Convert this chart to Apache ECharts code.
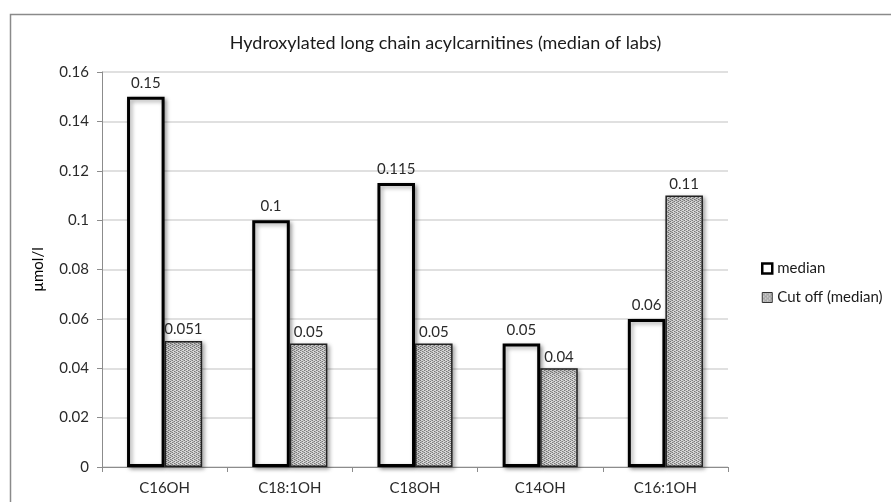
<!DOCTYPE html>
<html><head><meta charset="utf-8">
<script src="https://cdn.jsdelivr.net/npm/echarts@6/dist/echarts.min.js"></script>
<style>html,body{margin:0;padding:0;background:#fff}#c{width:891px;height:502px}</style>
</head><body><div id="c"></div>
<script>
const categories = ['C16OH', 'C18:1OH', 'C18OH', 'C14OH', 'C16:1OH'];
const medianValues = [0.15, 0.1, 0.115, 0.05, 0.06];
const cutoffValues = [0.051, 0.05, 0.05, 0.04, 0.11];
const seriesNames = ['median', 'Cut off (median)'];
const yTicks = ['0', '0.02', '0.04', '0.06', '0.08', '0.1', '0.12', '0.14', '0.16'];

function hatch() {
  const c = document.createElement('canvas');
  c.width = 4; c.height = 4;
  const g = c.getContext('2d');
  g.fillStyle = '#d8d8d8'; g.fillRect(0, 0, 4, 4);
  g.fillStyle = '#7a7a7a';
  g.fillRect(0, 0, 1, 1); g.fillRect(2, 1, 1, 1); g.fillRect(0, 2, 1, 1); g.fillRect(2, 3, 1, 1);
  g.fillStyle = '#a8a8a8';
  g.fillRect(1, 1, 1, 1); g.fillRect(3, 3, 1, 1); g.fillRect(3, 0, 1, 1); g.fillRect(1, 2, 1, 1);
  return c;
}
const hatchFill = { image: hatch(), repeat: 'repeat' };
const font = 'Lato, "Open Sans", sans-serif';
const chart = echarts.init(document.getElementById('c'));
chart.setOption({
  animation: false,
  backgroundColor: '#fff',
  textStyle: { fontFamily: font },
  graphic: [{
    type: 'rect', left: 8, top: 12, z: -1,
    shape: { width: 1000, height: 1000 },
    style: { fill: 'none', stroke: '#8a8a8a', lineWidth: 1.5 }
  }],
  title: {
    text: 'Hydroxylated long chain acylcarnitines (median of labs)',
    left: 'center', top: 29,
    textStyle: { fontFamily: font, fontSize: 18, fontWeight: 'normal', color: '#1a1a1a' }
  },
  legend: {
    orient: 'vertical', left: 756, top: 256, itemGap: 14,
    itemWidth: 10, itemHeight: 10,
    textStyle: { fontFamily: font, fontSize: 15, color: '#1a1a1a', padding: [0, 0, 0, 0] },
    data: [
      { name: seriesNames[0], icon: 'rect', itemStyle: { color: '#fff', borderColor: '#000', borderWidth: 2.5 } },
      { name: seriesNames[1], icon: 'rect', itemStyle: { color: hatchFill, borderColor: '#333', borderWidth: 1 } }
    ]
  },
  grid: { left: 102, right: 163, top: 72, bottom: 35 },
  xAxis: {
    type: 'category', data: categories,
    axisLine: { lineStyle: { color: '#8c8c8c', width: 1 } },
    axisTick: { show: true, length: 5, lineStyle: { color: '#8c8c8c' } },
    axisLabel: { fontFamily: font, fontSize: 15, color: '#2a2a2a', margin: 14 }
  },
  yAxis: {
    type: 'value', min: 0, max: 0.16, interval: 0.02,
    name: 'µmol/l', nameLocation: 'middle', nameGap: 56, nameRotate: 90,
    nameTextStyle: { fontFamily: font, fontSize: 15, color: '#000' },
    axisLine: { show: true, lineStyle: { color: '#8c8c8c', width: 1 } },
    axisTick: { show: true, length: 5, lineStyle: { color: '#8c8c8c' } },
    axisLabel: { fontFamily: font, fontSize: 15, color: '#2a2a2a', margin: 13,
      formatter: (v) => yTicks[Math.round(v / 0.02)] },
    splitLine: { lineStyle: { color: '#d6d6d6', width: 1.5 } }
  },
  series: [
    {
      name: seriesNames[0], type: 'bar', data: medianValues,
      barGap: '0%', barCategoryGap: '40%',
      itemStyle: { color: '#fff', borderColor: '#000', borderWidth: 3,
        shadowColor: 'rgba(0,0,0,0.35)', shadowBlur: 4, shadowOffsetX: 2, shadowOffsetY: 2 },
      label: { show: true, position: 'top', distance: 6, fontFamily: font, fontSize: 15, color: '#2a2a2a' }
    },
    {
      name: seriesNames[1], type: 'bar', data: cutoffValues,
      barGap: '0%', barCategoryGap: '40%',
      itemStyle: { color: hatchFill, borderColor: '#222', borderWidth: 1.5,
        shadowColor: 'rgba(0,0,0,0.35)', shadowBlur: 4, shadowOffsetX: 2, shadowOffsetY: 2 },
      label: { show: true, position: 'top', distance: 4, fontFamily: font, fontSize: 15, color: '#2a2a2a' }
    }
  ]
});
</script></body></html>
